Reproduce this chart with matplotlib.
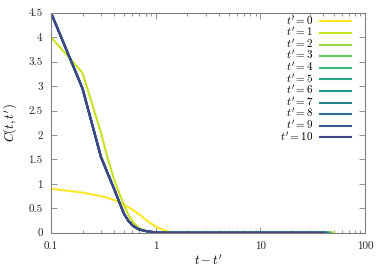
import numpy as np
import matplotlib
matplotlib.use("Agg")
import matplotlib.pyplot as plt
from matplotlib.ticker import FixedLocator, FixedFormatter, NullFormatter

plt.rcParams['font.family'] = 'serif'
plt.rcParams['font.serif'] = ['cmr10']
plt.rcParams['mathtext.fontset'] = 'cm'
plt.rcParams['axes.formatter.use_mathtext'] = True

# lag t - t' (denser near the decay, then sparse points on the zero tail)
lag_head = [0.1, 0.2, 0.3, 0.35, 0.4, 0.45, 0.5, 0.55, 0.6, 0.65, 0.7, 0.8, 0.9,
            1.0, 1.1, 1.2, 1.3, 1.4, 1.5, 1.7]
tail_lag = [2, 3, 5, 7, 10, 15, 20, 30, 40, 50]

c_t0 = [0.90, 0.82, 0.75, 0.71, 0.67, 0.62, 0.57, 0.52, 0.47, 0.42, 0.37, 0.27, 0.19,
        0.13, 0.085, 0.05, 0.03, 0.015, 0.007, 0.0]
c_t1 = [4.00, 3.27, 2.05, 1.50, 1.10, 0.80, 0.56, 0.36, 0.23, 0.15, 0.09, 0.04, 0.02,
        0.01, 0.004, 0.0, 0.0, 0.0, 0.0, 0.0]
c_late = [4.50, 2.95, 1.55, 1.20, 0.90, 0.62, 0.38, 0.24, 0.15, 0.10, 0.065, 0.035, 0.018,
          0.009, 0.004, 0.0, 0.0, 0.0, 0.0, 0.0]

t_prime = list(range(11))
t_max = 50

fig = plt.figure(figsize=(3.87, 2.71), dpi=100)
ax = fig.add_axes([0.1318, 0.1413, 0.8114, 0.8117])

cmap = plt.get_cmap('viridis')
for tp in t_prime:
    if tp == 0:
        c = c_t0
    elif tp == 1:
        c = c_t1
    else:
        c = c_late
    xs = lag_head + [x for x in tail_lag if x < t_max - tp] + [t_max - tp]
    ys = c + [0.0] * (len(xs) - len(c))
    col = cmap(1.0 - 0.08 * tp)
    ax.plot(xs, ys, color=col, lw=1.5, label=r"$t' = %d$" % tp)

ax.set_xscale('log')
ax.set_xlim(0.1, 100)
ax.set_ylim(0, 4.5)

ax.xaxis.set_major_locator(FixedLocator([0.1, 1, 10, 100]))
ax.xaxis.set_major_formatter(FixedFormatter(['0.1', '1', '10', '100']))
ax.xaxis.set_minor_formatter(NullFormatter())
yt = [0, 0.5, 1, 1.5, 2, 2.5, 3, 3.5, 4, 4.5]
ax.set_yticks(yt)
ax.set_yticklabels(['0', '0.5', '1', '1.5', '2', '2.5', '3', '3.5', '4', '4.5'])

ax.tick_params(which='both', direction='in', top=True, right=True,
               labelsize=8, colors='#808080', labelcolor='#222222')
ax.tick_params(which='major', length=4, width=0.6, pad=6)
ax.tick_params(which='minor', length=2, width=0.6)
for s in ax.spines.values():
    s.set_color('#808080')
    s.set_linewidth(0.8)

ax.set_xlabel(r"$t - t'$", fontsize=9, labelpad=2.5)
ax.set_ylabel(r"$C(t, t')$", fontsize=9, labelpad=6.5)

leg = ax.legend(loc='upper right', bbox_to_anchor=(1 - 6 / 314, 1 + 6 / 220),
                markerfirst=False, frameon=False, fontsize=8,
                handlelength=2.8, labelspacing=-0.13, borderaxespad=0.3,
                handletextpad=0.6)
for t in leg.get_texts():
    t.set_ha('right')

fig.savefig('out.png', dpi=100)
